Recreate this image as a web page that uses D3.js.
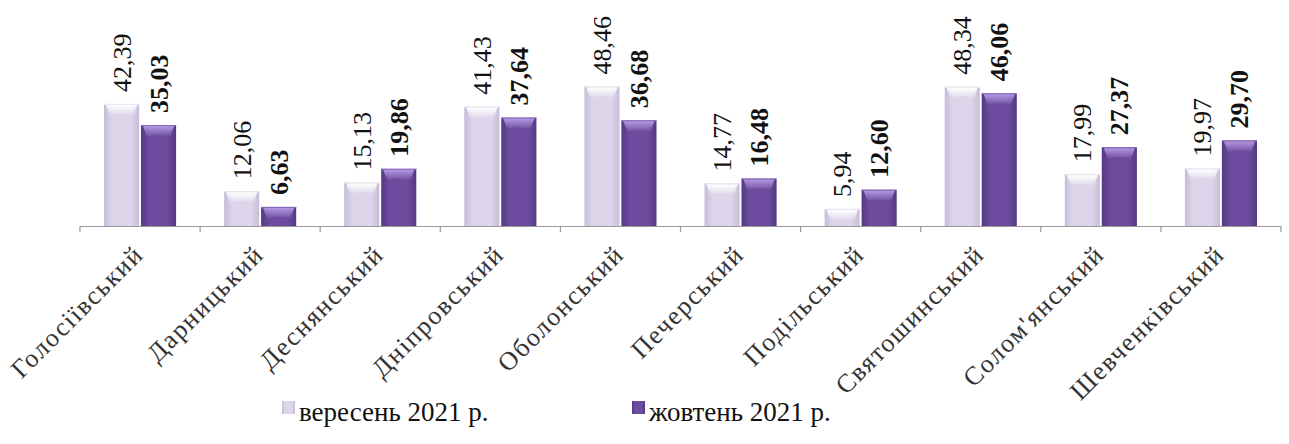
<!DOCTYPE html>
<html><head><meta charset="utf-8">
<script src="https://cdn.jsdelivr.net/npm/d3@7"></script>
<style>html,body{margin:0;padding:0;background:#fff;}svg{display:block;}</style>
</head><body>
<svg id="c" width="1289" height="444"></svg>
<script>
const categories = ["Голосіївський","Дарницький","Деснянський","Дніпровський","Оболонський","Печерський","Подільський","Святошинський","Солом'янський","Шевченківський"];
const september = [42.39,12.06,15.13,41.43,48.46,14.77,5.94,48.34,17.99,19.97];
const october = [35.03,6.63,19.86,37.64,36.68,16.48,12.60,46.06,27.37,29.70];
const seriesNames = ["вересень 2021 р.","жовтень 2021 р."];

const svg = d3.select("#c");
const baseY = 226, left = 80, right = 1281;
const x0 = d3.scaleBand().domain(categories).range([left, right]).paddingInner(0).paddingOuter(0);
const x1 = d3.scaleBand().domain([0,1]).range([24, x0.bandwidth()-24]).paddingInner(0.05);
const y = d3.scaleLinear().domain([0, 50]).range([baseY, baseY - 144]);
const fmt = v => v.toFixed(2).replace(".", ",");
const FONT = "'Liberation Serif', 'Times New Roman', serif";

const defs = svg.append("defs");
function grads(id, edge, mid, top) {
  const g = defs.append("linearGradient").attr("id", id+"h").attr("x1",0).attr("x2",1).attr("y1",0).attr("y2",0);
  g.append("stop").attr("offset","0%").attr("stop-color",edge);
  g.append("stop").attr("offset","25%").attr("stop-color",mid);
  g.append("stop").attr("offset","75%").attr("stop-color",mid);
  g.append("stop").attr("offset","100%").attr("stop-color",edge);
  const t = defs.append("linearGradient").attr("id", id+"t").attr("x1",0).attr("x2",0).attr("y1",0).attr("y2",1);
  t.append("stop").attr("offset","0%").attr("stop-color",top).attr("stop-opacity",1);
  t.append("stop").attr("offset","100%").attr("stop-color",top).attr("stop-opacity",0);
}
grads("g0", "#c7bddb", "#ddd6ea", "#ffffff");
grads("g1", "#563883", "#6d4c9f", "#b497e0");

const series = [september, october];
const g = svg.append("g");
categories.forEach((c, i) => {
  series.forEach((vals, s) => {
    const v = vals[i];
    const bx = x0(c) + x1(s), bw = x1.bandwidth();
    const by = y(v), bh = baseY - y(v);
    g.append("rect").attr("x", bx).attr("y", by).attr("width", bw).attr("height", bh)
      .attr("fill", `url(#g${s}h)`);
    g.append("rect").attr("x", bx).attr("y", by).attr("width", bw).attr("height", 1)
      .attr("fill", s ? "#8a6cbc" : "#ece8f4");
    g.append("path")
      .attr("d", `M${bx+2},${by+1} L${bx+bw-2},${by+1} L${bx+bw-6},${by+Math.min(12,bh-1)} Q${bx+bw/2},${by+Math.min(7,bh-1)} ${bx+6},${by+Math.min(12,bh-1)} Z`)
      .attr("fill", `url(#g${s}t)`);
    g.append("text")
      .attr("transform", `translate(${bx + bw/2 + 9},${by - 12}) rotate(-90)`)
      .attr("text-anchor", "start")
      .attr("font-family", FONT)
      .attr("font-size", 26)
      .attr("font-weight", s ? "bold" : "normal")
      .attr("fill", "#111")
      .text(fmt(v));
  });
});

// axis
const axis = svg.append("g");
axis.append("line").attr("x1", left).attr("x2", right).attr("y1", baseY+0.5).attr("y2", baseY+0.5)
  .attr("stroke", "#9a9a9a").attr("stroke-width", 1.2);
const tickXs = categories.map(c => x0(c)).concat([right]);
axis.selectAll("line.t").data(tickXs).enter().append("line").attr("class","t")
  .attr("x1", d => d).attr("x2", d => d).attr("y1", baseY).attr("y2", baseY + 6)
  .attr("stroke", "#9a9a9a").attr("stroke-width", 1.2);
axis.selectAll("text.cat").data(categories).enter().append("text").attr("class","cat")
  .attr("transform", c => `translate(${x0(c) + x0.bandwidth()/2 + 5},${baseY + 30}) rotate(-45)`)
  .attr("text-anchor", "end")
  .attr("font-family", FONT)
  .attr("font-size", 26)
  .attr("letter-spacing", 1.6)
  .attr("fill", "#333")
  .text(d => d);

// legend
const leg = svg.append("g");
const legX = [282, 632];
seriesNames.forEach((n, s) => {
  leg.append("rect").attr("x", legX[s]).attr("y", 401).attr("width", 13).attr("height", 13)
    .attr("fill", `url(#g${s}h)`);
  leg.append("text").attr("x", legX[s] + 17).attr("y", 421)
    .attr("font-family", FONT)
    .attr("font-size", 27).attr("fill", "#111").text(n);
});
</script>
</body></html>
